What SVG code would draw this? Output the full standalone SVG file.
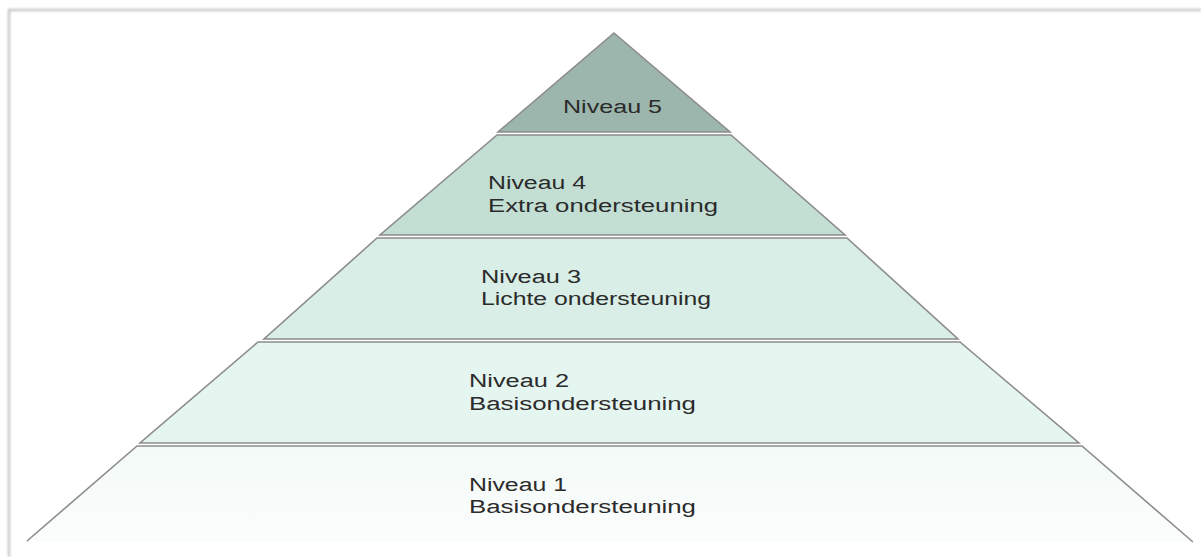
<svg xmlns="http://www.w3.org/2000/svg" width="1201" height="557" viewBox="0 0 1201 557">
  <defs>
    <linearGradient id="g1" x1="0" y1="0" x2="0" y2="1">
      <stop offset="0" stop-color="#f3faf8"/>
      <stop offset="1" stop-color="#fbfdfc"/>
    </linearGradient>
    <filter id="blur" x="-5%" y="-5%" width="110%" height="110%">
      <feGaussianBlur stdDeviation="1.2"/>
    </filter>
    <style>
      .lvl { stroke: #8c8c8c; stroke-width: 1.6; stroke-linejoin: miter; }
      .edge { fill: none; stroke: #8c8c8c; stroke-width: 1.6; }
      .lbl { font-family: "Liberation Sans", Arial, sans-serif; font-size: 18px; fill: #2b2b2b; }
    </style>
  </defs>
  <rect x="0" y="0" width="1201" height="557" fill="#ffffff"/>
  <g id="frame">
    <path d="M9,557 V10 H1201" fill="none" stroke="#c8c8c8" stroke-width="2.5" filter="url(#blur)"/>
  </g>
  <g id="level1">
    <polygon points="137,446 1082,446 1193,542 27,542" fill="url(#g1)"/>
    <path class="edge" d="M27,541 L137,446 H1082 L1193,542"/>
    <text class="lbl" x="469" y="491" textLength="98" lengthAdjust="spacingAndGlyphs">Niveau 1</text>
    <text class="lbl" x="469" y="513" textLength="227" lengthAdjust="spacingAndGlyphs">Basisondersteuning</text>
  </g>
  <g id="level2">
    <polygon class="lvl" points="258,342 960,342 1079,443 140,443" fill="#e5f5f0"/>
    <text class="lbl" x="469" y="387" textLength="100" lengthAdjust="spacingAndGlyphs">Niveau 2</text>
    <text class="lbl" x="469" y="410" textLength="227" lengthAdjust="spacingAndGlyphs">Basisondersteuning</text>
  </g>
  <g id="level3">
    <polygon class="lvl" points="377,238 847,238 958,339 264,339" fill="#d8eee6"/>
    <text class="lbl" x="481" y="283" textLength="100" lengthAdjust="spacingAndGlyphs">Niveau 3</text>
    <text class="lbl" x="481" y="305" textLength="230" lengthAdjust="spacingAndGlyphs">Lichte ondersteuning</text>
  </g>
  <g id="level4">
    <polygon class="lvl" points="497,135 731,135 845,235 380,235" fill="#c3dfd4"/>
    <text class="lbl" x="488" y="189" textLength="98" lengthAdjust="spacingAndGlyphs">Niveau 4</text>
    <text class="lbl" x="488" y="212" textLength="230" lengthAdjust="spacingAndGlyphs">Extra ondersteuning</text>
  </g>
  <g id="level5">
    <polygon class="lvl" points="614,33 730,132 498,132" fill="#9db6ad"/>
    <text class="lbl" x="563" y="113" textLength="99" lengthAdjust="spacingAndGlyphs">Niveau 5</text>
  </g>
  <g id="connectors"/>
</svg>
